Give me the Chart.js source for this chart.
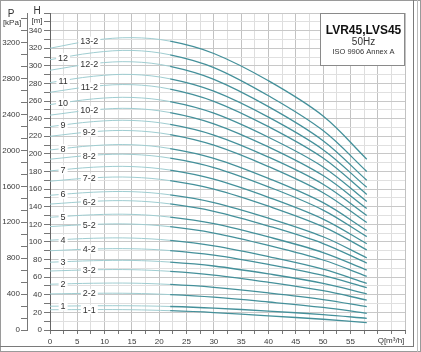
<!DOCTYPE html>
<html>
<head>
<meta charset="UTF-8">
<title>LVR45,LVS45</title>
<script src="https://cdn.jsdelivr.net/npm/chart.js"></script>
<style>
  html, body { margin: 0; padding: 0; background: #fff; }
  #box { position: relative; width: 421px; height: 352px; }
</style>
</head>
<body>
<div id="box"><canvas id="grafico" width="421" height="352"></canvas></div>
<script>
// vazao Q [m3/h] dos pontos lidos
const flow = [0, 8, 15, 22, 30, 40, 50, 58];

const curveNames = ['13-2', '12', '12-2', '11', '11-2', '10', '10-2', '9', '9-2', '8', '8-2', '7', '7-2',
  '6', '6-2', '5', '5-2', '4', '4-2', '3', '3-2', '2', '2-2', '1', '1-1'];

// altura H [m] de cada curva, na ordem de curveNames
const heads = [
  [320, 329, 332, 328, 314, 283, 243, 194],
  [307, 315, 317.5, 312.5, 298, 266, 226.5, 180],
  [295, 302.6, 304.6, 299.4, 284.7, 253.7, 215, 170],
  [281, 288.2, 290.2, 285.2, 271.2, 241.7, 204.8, 162],
  [270, 276.8, 278.6, 273.6, 259.7, 230.9, 195.3, 154],
  [256, 262.5, 264.1, 259.4, 246.3, 218.9, 185.2, 146],
  [244, 250, 251.6, 246.9, 234.2, 207.9, 175.4, 138],
  [231, 236.7, 238, 233.5, 221.4, 196.4, 165.5, 130],
  [220, 225.3, 226.4, 221.9, 209.9, 185.6, 155.9, 122],
  [204.5, 209.4, 210.4, 206.1, 195, 172.2, 144.6, 113],
  [194, 198.6, 199.4, 195.2, 184.5, 162.6, 136.2, 106],
  [180.7, 184.9, 185.6, 181.6, 171.3, 150.7, 126, 98],
  [169, 172.9, 173.5, 169.6, 160, 140.6, 117.3, 91],
  [153, 156.5, 157.1, 153.5, 144.7, 127, 105.9, 82],
  [143, 146.2, 146.7, 143.2, 134.8, 118.1, 98.2, 76],
  [128, 130.9, 131.3, 128.2, 120.7, 105.7, 87.9, 68],
  [117.5, 120, 120.3, 117.3, 110.1, 96.1, 79.5, 61],
  [102, 104.2, 104.4, 101.8, 95.6, 83.4, 69.1, 53],
  [90, 92, 92.3, 90.2, 85, 74.5, 62, 48],
  [77, 78.7, 79, 77.1, 72.7, 63.7, 53, 41],
  [67, 68.4, 68.5, 66.6, 62.4, 54.2, 44.6, 34],
  [52, 53.1, 53.2, 51.7, 48.4, 42.1, 34.6, 26.5],
  [41, 41.7, 41.6, 40.2, 37.3, 31.8, 25.6, 19],
  [27, 27.5, 27.5, 26.7, 24.9, 21.5, 17.5, 13.3],
  [23, 23.2, 23, 21.9, 19.8, 16.1, 12.2, 8.3]
];

const qTicks = [0, 5, 10, 15, 20, 25, 30, 35, 40, 45, 50, 55];
const hTicks = [0, 20, 40, 60, 80, 100, 120, 140, 160, 180, 200, 220, 240, 260, 280, 300, 320, 340];
const pTicks = [0, 400, 800, 1200, 1600, 2000, 2400, 2800, 3200];

const KPA_POR_M = 9.81;
const H_MAX = 360;
const Q_INICIO_FAIXA = 22; // a partir daqui a curva fica escura

const corClara = '#9fcdd1';
const corEscura = '#44909a';

Chart.defaults.font.family = "'Liberation Sans', Arial, sans-serif";
Chart.defaults.font.size = 8;
Chart.defaults.color = '#3a3a3a';

const datasets = curveNames.map((nome, i) => ({
  label: nome,
  data: flow.map((q, j) => ({ x: q, y: heads[i][j] })),
  yAxisID: 'h',
  pointRadius: 0,
  fill: false,
  tension: 0.35,
  borderColor: corEscura,
  borderWidth: 1.3,
  segment: {
    borderColor: ctx => ctx.p0.parsed.x < Q_INICIO_FAIXA ? corClara : corEscura,
    borderWidth: ctx => ctx.p0.parsed.x < Q_INICIO_FAIXA ? 1 : 1.3
  }
}));

// rótulos das curvas, legenda, títulos e moldura
const decoracao = {
  id: 'decoracao',
  beforeDraw(chart) {
    const c = chart.ctx;
    c.save();
    c.fillStyle = '#fff';
    c.fillRect(0, 0, chart.width, chart.height);
    c.restore();
  },
  afterDatasetsDraw(chart) {
    const c = chart.ctx;
    const sx = chart.scales.x;
    const sh = chart.scales.h;
    c.save();
    c.font = "9px 'Liberation Sans', Arial, sans-serif";
    c.textAlign = 'center';
    c.textBaseline = 'middle';

    chart.data.datasets.forEach(ds => {
      const q = ds.label.includes('-') ? 7.2 : 2.4;
      const pts = ds.data;
      let y = pts[0].y;
      for (let k = 0; k < pts.length - 1; k++) {
        if (q >= pts[k].x && q <= pts[k + 1].x) {
          const t = (q - pts[k].x) / (pts[k + 1].x - pts[k].x);
          y = pts[k].y + t * (pts[k + 1].y - pts[k].y);
        }
      }
      const px = sx.getPixelForValue(q);
      const py = sh.getPixelForValue(y);
      const w = c.measureText(ds.label).width;
      c.fillStyle = '#fff';
      c.fillRect(px - w / 2 - 2, py - 4.5, w + 4, 9);
      c.fillStyle = '#333';
      c.fillText(ds.label, px, py + 0.5);
    });

    // caixa de identificação
    const area = chart.chartArea;
    const bx = 320, by = area.top, bw = area.right - 320, bh = 52;
    const cx = bx + bw / 2 + 1;
    c.fillStyle = '#fff';
    c.fillRect(bx, by, bw, bh);
    c.strokeStyle = '#8a8a8a';
    c.lineWidth = 1;
    c.strokeRect(bx + 0.5, by + 0.5, bw - 1, bh);
    c.fillStyle = '#111';
    c.font = "bold 12px 'Liberation Sans', Arial, sans-serif";
    c.fillText('LVR45,LVS45', cx, by + 18);
    c.font = "10px 'Liberation Sans', Arial, sans-serif";
    c.fillStyle = '#333';
    c.fillText('50Hz', cx, by + 29);
    c.font = "7.5px 'Liberation Sans', Arial, sans-serif";
    c.fillText('ISO 9906 Annex A', cx, by + 39);

    // títulos dos eixos
    c.font = "10px 'Liberation Sans', Arial, sans-serif";
    c.fillStyle = '#333';
    c.fillText('P', 11, 14);
    c.fillText('H', 37, 11);
    c.font = "8px 'Liberation Sans', Arial, sans-serif";
    c.fillText('[kPa]', 12, 23);
    c.fillText('[m]', 37, 21);
    c.fillText('Q[m\u00b3/h]', 391, 341);

    // moldura
    c.strokeStyle = '#9a9a9a';
    c.strokeRect(0.5, 0.5, chart.width - 1, chart.height - 1);
    c.strokeStyle = '#7a7a7a';
    c.beginPath();
    c.moveTo(413.5, 0);
    c.lineTo(413.5, 347);
    c.moveTo(0, 346.5);
    c.lineTo(414, 346.5);
    c.stroke();
    c.strokeStyle = '#bbb';
    c.beginPath();
    c.moveTo(417.5, 0);
    c.lineTo(417.5, 352);
    c.stroke();
    c.restore();
  }
};

new Chart(document.getElementById('grafico'), {
  type: 'line',
  data: { datasets: datasets },
  plugins: [decoracao],
  options: {
    responsive: false,
    animation: false,
    events: [],
    layout: { padding: { left: 0, top: 13, right: 16, bottom: 4 } },
    plugins: { legend: { display: false }, tooltip: { enabled: false } },
    scales: {
      x: {
        type: 'linear',
        min: 0,
        max: 65,
        afterFit: s => { s.height = 18; },
        ticks: {
          stepSize: 2.5,
          autoSkip: false,
          maxRotation: 0,
          padding: 3,
          callback: v => qTicks.includes(v) ? v : ''
        },
        grid: {
          color: ctx => ctx.tick && ctx.tick.value % 5 === 0 ? '#c2c2c2' : '#dedede',
          tickLength: 4,
          tickColor: '#777'
        },
        border: { display: true, color: '#666' }
      },
      h: {
        type: 'linear',
        position: 'left',
        weight: 0,
        min: 0,
        max: H_MAX,
        afterFit: s => { s.width = 23; },
        ticks: {
          stepSize: 10,
          autoSkip: false,
          padding: 2,
          callback: v => hTicks.includes(v) ? v : ''
        },
        grid: {
          color: ctx => ctx.tick && ctx.tick.value % 20 === 0 ? '#c8c8c8' : '#e0e0e0',
          tickLength: 6,
          tickColor: '#777'
        },
        border: { display: true, color: '#666' }
      },
      p: {
        type: 'linear',
        position: 'left',
        weight: 1,
        min: 0,
        max: H_MAX * KPA_POR_M,
        afterFit: s => { s.width = 27; },
        afterBuildTicks: s => {
          const t = [];
          for (let i = 0; i * 400 / 3 <= s.max; i++) t.push({ value: i * 400 / 3 });
          s.ticks = t;
        },
        ticks: {
          autoSkip: false,
          padding: 1,
          callback: v => pTicks.includes(Math.round(v)) ? Math.round(v) : ''
        },
        grid: {
          drawOnChartArea: false,
          tickLength: 6,
          tickColor: '#777'
        },
        border: { display: true, color: '#777' }
      }
    }
  }
});
</script>
</body>
</html>
